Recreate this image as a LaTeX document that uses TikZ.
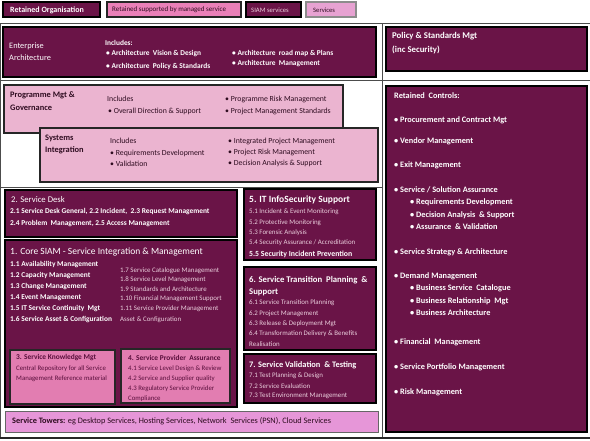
\documentclass[tikz,border=0pt]{standalone}
\usepackage{fontspec}
\setmainfont{Carlito}
\usetikzlibrary{fit}
\definecolor{dkp}{HTML}{6A1447}
\definecolor{pnk}{HTML}{EBB4D0}
\definecolor{hotpnk}{HTML}{EA80B8}
\definecolor{svpnk}{HTML}{E7A2D2}
\definecolor{twpnk}{HTML}{E696D8}
\definecolor{kpnk}{HTML}{E27DB1}
\definecolor{ltxt}{HTML}{EBCFDD}
\definecolor{dtxt}{HTML}{2E0C20}
\definecolor{ptxt}{HTML}{5A0F3C}
\tikzset{
  darkbox/.style={fill=dkp, draw=black, line width=1.3pt, inner sep=0pt},
  pinkbox/.style={fill=pnk, draw=black!85, line width=1.3pt, inner sep=0pt},
  kbox/.style={fill=kpnk, draw=black!85, line width=1.2pt, inner sep=0pt},
  frameline/.style={draw=black!70, line width=0.7pt},
  tw/.style={anchor=west, inner sep=0pt, text=white, font=\fontsize{7.4}{8}\selectfont\bfseries},
  tl/.style={anchor=west, inner sep=0pt, text=ltxt, font=\fontsize{6.9}{8}\selectfont},
  th/.style={anchor=west, inner sep=0pt, text=white, font=\fontsize{9.5}{10}\selectfont\bfseries},
  td/.style={anchor=west, inner sep=0pt, text=dtxt, font=\fontsize{7.8}{9}\selectfont},
  tdb/.style={anchor=west, inner sep=0pt, text=dtxt, font=\fontsize{8.4}{9}\selectfont\bfseries},
  tp/.style={anchor=west, inner sep=0pt, text=ptxt, font=\fontsize{6.8}{8}\selectfont},
  tpb/.style={anchor=west, inner sep=0pt, text=ptxt, font=\fontsize{7.4}{8}\selectfont\bfseries},
  trc/.style={anchor=west, inner sep=0pt, text=white, font=\fontsize{8.3}{9}\selectfont\bfseries},
}
\begin{document}
\begin{tikzpicture}[x=1pt,y=-1pt]
\useasboundingbox (0,0) rectangle (590,440);
\fill[white] (0,0) rectangle (590,440);
% frame lines
\coordinate (f1) at (0,23); \coordinate (f2) at (590,23);
\coordinate (f3) at (0,80); \coordinate (f4) at (590,80);
\coordinate (f5) at (0,187); \coordinate (f6) at (382,187);
\coordinate (f7) at (0,438); \coordinate (f8) at (590,438);
\coordinate (f9) at (382,23); \coordinate (f10) at (382,438);
\coordinate (f11) at (0.5,23); \coordinate (f12) at (0.5,438);
\draw[frameline] (f1) -- (f2);
\draw[frameline] (f3) -- (f4);
\draw[frameline] (f5) -- (f6);
\draw[frameline] (f9) -- (f10);
\draw[frameline] (f11) -- (f12);
\draw[draw=black!85, line width=1.6pt] (f7) -- (f8);

% legend
\node[darkbox, fit={(3,2)(100,17)}] (lg1) {};
\node[tw, font=\fontsize{8}{8}\selectfont\bfseries] at (10,10) {Retained Organisation};
\node[fill=hotpnk, draw=black!85, line width=1.2pt, inner sep=0pt, fit={(107,2)(241,17)}] (lg2) {};
\node[anchor=west, inner sep=0pt, text=dtxt, font=\fontsize{7}{7}\selectfont] at (112,10) {Retained supported by managed service};
\node[darkbox, fit={(246,2)(301,17)}] (lg3) {};
\node[anchor=west, inner sep=0pt, text=ltxt, font=\fontsize{6.7}{7}\selectfont] at (251,10) {SIAM services};
\node[fill=svpnk, draw=black!45, line width=1.2pt, inner sep=0pt, fit={(306,2)(356,17)}] (lg4) {};
\node[anchor=west, inner sep=0pt, text=dtxt, font=\fontsize{6.6}{7}\selectfont] at (313,10) {Services};

% Enterprise Architecture
\node[darkbox, fit={(3,27)(376,77)}] (ea) {};
\node[tw, font=\fontsize{8.3}{9}\selectfont] at (9,46) {Enterprise};
\node[tw, font=\fontsize{8.3}{9}\selectfont] at (9,58) {Architecture};
\node[tw] at (105,43) {Includes:};
\node[tw] at (106,54) {• Architecture\ \ Vision \& Design};
\node[tw] at (106,66) {• Architecture\ \ Policy \& Standards};
\node[tw] at (232,53) {• Architecture\ \ road map \& Plans};
\node[tw] at (232,64) {• Architecture\ \ Management};

% Policy
\node[darkbox, fit={(386,27)(587,71)}] (pol) {};
\node[trc, font=\fontsize{8.8}{9}\selectfont\bfseries] at (392,36) {Policy \& Standards Mgt};
\node[trc, font=\fontsize{8.8}{9}\selectfont\bfseries] at (392,50) {(inc Security)};

% Programme Mgt
\node[pinkbox, fit={(4,85)(343,133)}] (pm) {};
\node[tdb] at (10,95) {Programme Mgt \&};
\node[tdb] at (10,108) {Governance};
\node[td] at (107,99) {Includes};
\node[td] at (108,111) {• Overall Direction \& Support};
\node[td] at (225,99) {• Programme Risk Management};
\node[td] at (225,111) {• Project Management Standards};

% Systems Integration
\node[pinkbox, fit={(40,128)(378,182)}] (si) {};
\node[tdb] at (45,138) {Systems};
\node[tdb] at (45,150) {Integration};
\node[td] at (110,141) {Includes};
\node[td] at (110,153) {• Requirements Development};
\node[td] at (110,164) {• Validation};
\node[td] at (228,141) {• Integrated Project Management};
\node[td] at (228,152) {• Project Risk Management};
\node[td] at (228,163) {• Decision Analysis \& Support};

% Service Desk
\node[darkbox, fit={(5,190)(237,237)}] (sd) {};
\node[th, font=\fontsize{8.7}{9}\selectfont] at (11,200) {2. Service Desk};
\node[tw] at (10,212) {2.1 Service Desk General, 2.2 Incident,\ \ 2.3 Request Management};
\node[tw] at (10,224) {2.4 Problem\ \ Management, 2.5 Access Management};

% Core SIAM
\node[darkbox, fit={(5,240)(237,407)}] (core) {};
\node[th, font=\fontsize{9.5}{10}\selectfont] at (10,252) {1. Core SIAM - Service Integration \& Management};
\node[tw] at (10,265) {1.1 Availability Management};
\node[tw] at (10,276) {1.2 Capacity Management};
\node[tw] at (10,287) {1.3 Change Management};
\node[tw] at (10,298) {1.4 Event Management};
\node[tw] at (10,309) {1.5 IT Service Continuity\ \ Mgt};
\node[tw] at (10,320) {1.6 Service Asset \& Configuration};
\node[tl] at (120,271) {1.7 Service Catalogue Management};
\node[tl] at (120,280) {1.8 Service Level Management};
\node[tl] at (120,289) {1.9 Standards and Architecture};
\node[tl] at (120,299) {1.10 Financial Management Support};
\node[tl] at (120,309) {1.11 Service Provider Management};
\node[tl] at (120,320) {Asset \& Configuration};

% Knowledge & Provider Assurance
\node[kbox, fit={(10,350)(115,404)}] (kn) {};
\node[tpb] at (16,358) {3. Service Knowledge Mgt};
\node[tp] at (16,369) {Central Repository for all Service};
\node[tp] at (16,379) {Management Reference material};
\node[kbox, fit={(121,349)(230,403)}] (spa) {};
\node[tpb] at (128,358) {4. Service Provider\ \ Assurance};
\node[tp] at (128,369) {4.1 Service Level Design \& Review};
\node[tp] at (128,379) {4.2 Service and Supplier quality};
\node[tp] at (128,389) {4.3 Regulatory Service Provider};
\node[tp] at (128,399) {Compliance};

% IT InfoSecurity
\node[darkbox, fit={(244,189)(376,260)}] (sec) {};
\node[th] at (249,200) {5. IT InfoSecurity Support};
\node[tl] at (249,212) {5.1 Incident \& Event Monitoring};
\node[tl] at (249,223) {5.2 Protective Monitoring};
\node[tl] at (249,233) {5.3 Forensic Analysis};
\node[tl] at (249,243) {5.4 Security Assurance / Accreditation};
\node[tw, font=\fontsize{7.8}{8}\selectfont\bfseries] at (249,254) {5.5 Security Incident Prevention};

% Service Transition
\node[darkbox, fit={(244,267)(376,350)}] (st) {};
\node[th, font=\fontsize{8.7}{9}\selectfont\bfseries] at (249,280) {6. Service Transition\ \ Planning \ \&};
\node[th, font=\fontsize{8.7}{9}\selectfont\bfseries] at (249,292) {Support};
\node[tl] at (249,303) {6.1 Service Transition Planning};
\node[tl] at (249,314) {6.2 Project Management};
\node[tl] at (249,324) {6.3 Release \& Deployment Mgt};
\node[tl] at (249,334) {6.4 Transformation Delivery \& Benefits};
\node[tl] at (249,344) {Realisation};

% Service Validation
\node[darkbox, fit={(244,354)(376,403)}] (sv) {};
\node[th, font=\fontsize{8.4}{9}\selectfont\bfseries] at (249,365) {7. Service Validation\ \ \& Testing};
\node[tl] at (249,376) {7.1 Test Planning \& Design};
\node[tl] at (249,386) {7.2 Service Evaluation};
\node[tl] at (249,396) {7.3 Test Environment Management};

% Service Towers
\node[fill=twpnk, draw=black!60, line width=1pt, inner sep=0pt, fit={(5,411)(378,432)}] (tow) {};
\node[anchor=west, inner sep=0pt, text=dtxt, font=\fontsize{8.3}{9}\selectfont] at (12,421) {\textbf{Service Towers:} eg Desktop Services, Hosting Services, Network\ \ Services (PSN),\ Cloud Services};

% Retained Controls
\node[darkbox, fit={(386,86)(587,432)}] (rc) {};
\node[trc] at (394,96) {Retained\ \ Controls:};
\node[trc] at (394,120) {• Procurement and Contract Mgt};
\node[trc] at (394,141) {• Vendor Management};
\node[trc] at (394,165) {• Exit Management};
\node[trc] at (394,190) {• Service / Solution Assurance};
\node[trc] at (410,202) {• Requirements Development};
\node[trc] at (410,215) {• Decision Analysis\ \ \& Support};
\node[trc] at (410,227) {• Assurance\ \ \& Validation};
\node[trc] at (394,252) {• Service Strategy \& Architecture};
\node[trc] at (394,276) {• Demand Management};
\node[trc] at (410,288) {• Business Service\ \ Catalogue};
\node[trc] at (410,301) {• Business Relationship\ \ Mgt};
\node[trc] at (410,313) {• Business Architecture};
\node[trc] at (394,342) {• Financial\ \ Management};
\node[trc] at (394,367) {• Service Portfolio Management};
\node[trc] at (394,392) {• Risk Management};
\end{tikzpicture}
\end{document}
